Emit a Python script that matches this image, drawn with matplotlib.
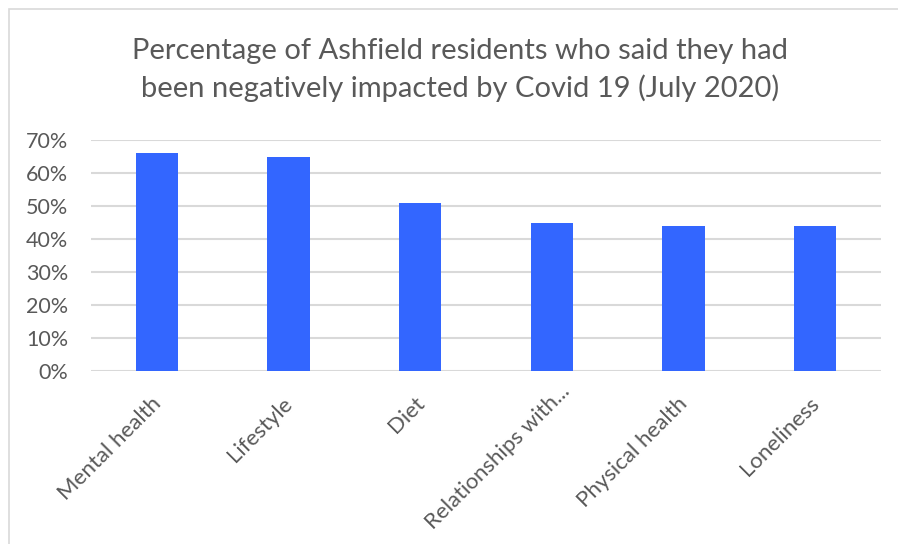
import numpy as np
import matplotlib.pyplot as plt
import matplotlib.transforms as mtransforms
from matplotlib.patches import Rectangle

categories = ["Mental health", "Lifestyle", "Diet", "Relationships with...",
              "Physical health", "Loneliness"]
values = [0.66, 0.65, 0.51, 0.45, 0.44, 0.44]
yticks = [0, 0.1, 0.2, 0.3, 0.4, 0.5, 0.6, 0.7]
title_lines = ["Percentage of Ashfield residents who said they had",
               "been negatively impacted by Covid 19 (July 2020)"]

plt.rcParams['font.family'] = ['Lato', 'DejaVu Sans']
grey = "#595959"

fig = plt.figure(figsize=(8.98, 5.44), dpi=100)
# borde del area del grafico
fig.patches.append(Rectangle((9 / 898, -0.1), 1.2, 1.1 - 9 / 544, transform=fig.transFigure,
                             fill=False, edgecolor="#d9d9d9", linewidth=1.2))

ax = fig.add_axes([91 / 898, 1 - 371 / 544, 790 / 898, 231 / 544])
x = np.arange(len(categories))
ax.bar(x, values, width=0.32, color="#3366ff", zorder=3)

ax.set_xlim(-0.5, len(categories) - 0.5)
ax.set_ylim(0, 0.7)
ax.set_yticks(yticks)
ax.set_yticklabels([f"{int(round(v * 100))}%" for v in yticks], color=grey, fontsize=15.5)
ax.yaxis.grid(True, color="#d9d9d9", linewidth=1.5, zorder=0)
ax.tick_params(axis="y", length=0, pad=16.5)
ax.tick_params(axis="x", length=0, pad=16)

ax.set_xticks(x)
ax.set_xticklabels(categories, rotation=45, ha="right", va="top",
                   rotation_mode="anchor", color=grey, fontsize=16)
# la etiqueta recortada queda algo mas arriba en el original
for lbl in ax.get_xticklabels():
    dx, dy = -6, 0
    if lbl.get_text().endswith("..."):
        dx, dy = 8, 12
    off = mtransforms.ScaledTranslation(dx / 100, dy / 100, fig.dpi_scale_trans)
    lbl.set_transform(lbl.get_transform() + off)

for s in ax.spines.values():
    s.set_visible(False)

for i, line in enumerate(title_lines):
    fig.text(460 / 898, 1 - (59 + 38 * i) / 544, line, ha="center", va="baseline",
             color=grey, fontsize=21)

fig.savefig("out.png", dpi=100)
